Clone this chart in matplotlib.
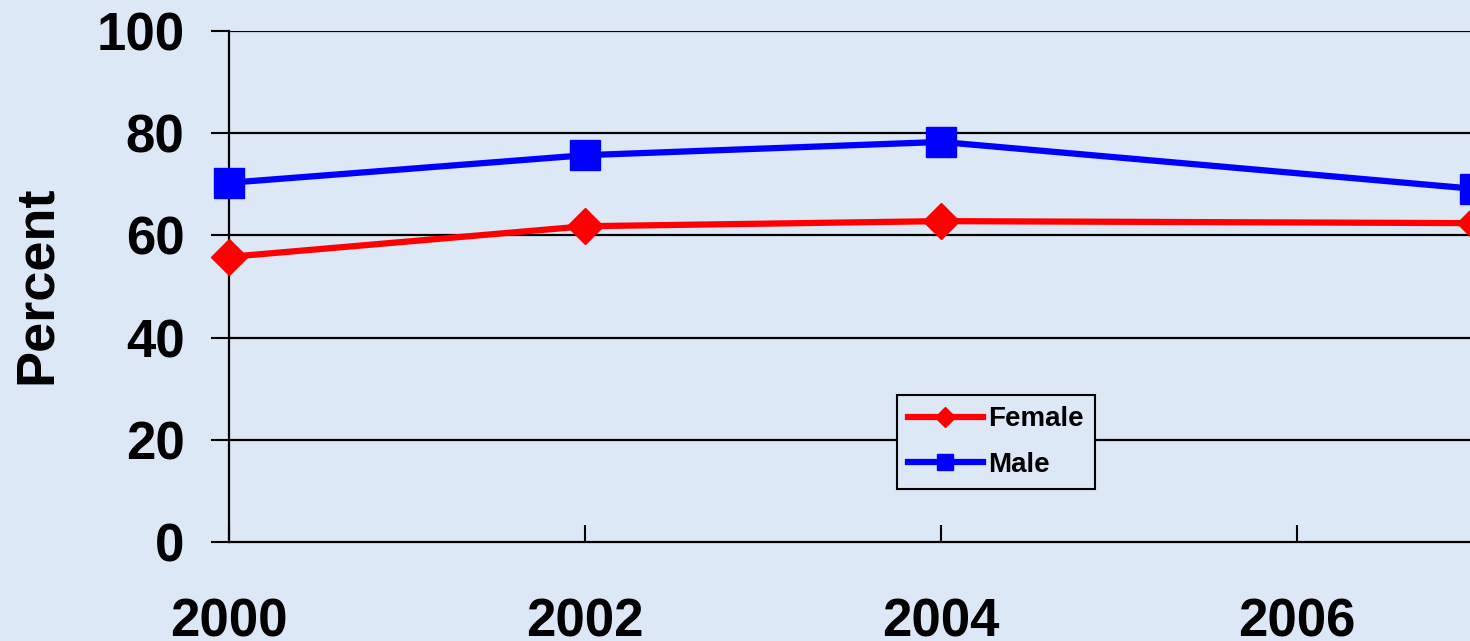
import matplotlib.pyplot as plt

# Values
years = [2000, 2002, 2004, 2007]
female = [55.8, 61.8, 62.8, 62.4]
male = [70.3, 75.7, 78.3, 69.1]
y_ticks = [0, 20, 40, 60, 80, 100]
x_ticks = [2000, 2002, 2004, 2006]

bg = "#dce8f6"
plt.rcParams["font.family"] = ["Liberation Sans", "DejaVu Sans"]
plt.rcParams["font.weight"] = "bold"

fig = plt.figure(figsize=(14.7, 6.41), dpi=100, facecolor=bg)
ax = fig.add_axes([0.1558, 0.1544, 1 - 0.1558, 0.9516 - 0.1544])
ax.set_facecolor(bg)

ax.set_xlim(2000, 2006.97)
ax.set_ylim(0, 100)

for y in y_ticks[1:]:
    ax.axhline(y, color="black", lw=1.6, zorder=1)

ax.plot(years, female, color="#ff0000", lw=4.5, marker="D", ms=18,
        label="Female", clip_on=False, zorder=3)
ax.plot(years, male, color="#0000ff", lw=4.5, marker="s", ms=21,
        label="Male", clip_on=False, zorder=3)

for side in ["top", "right"]:
    ax.spines[side].set_visible(False)
for side in ["left", "bottom"]:
    ax.spines[side].set_linewidth(1.6)
    ax.spines[side].set_zorder(2)

ax.set_yticks(y_ticks)
ax.set_xticks(x_ticks)
ax.tick_params(axis="y", direction="out", length=13, width=1.5,
               pad=19, labelsize=38)
ax.tick_params(axis="x", direction="in", length=12, width=1.5,
               pad=40, labelsize=38)

ax.set_ylabel("Percent", fontsize=39, fontweight="bold")
ax.yaxis.set_label_coords(-0.135, 0.503)

leg = ax.legend(loc="lower left", bbox_to_anchor=(0.538, 0.104),
                borderaxespad=0, fontsize=20, frameon=True, fancybox=False,
                edgecolor="black", facecolor=bg, framealpha=1,
                handlelength=2.7, handletextpad=0.2, labelspacing=0.7,
                borderpad=0.4, markerscale=0.55)
leg.get_frame().set_linewidth(1.5)
for t in leg.get_texts():
    t.set_fontweight("bold")
for h in leg.legend_handles:
    h.set_linewidth(4.5)

fig.savefig("out.png", dpi=100, facecolor=bg)
